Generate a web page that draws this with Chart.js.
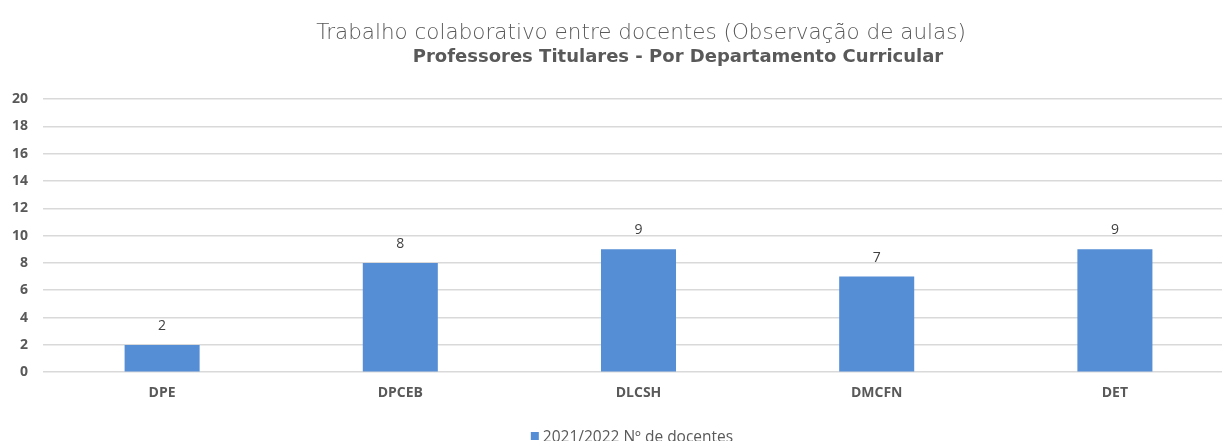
<!DOCTYPE html>
<html>
<head>
<meta charset="utf-8">
<script src="https://cdn.jsdelivr.net/npm/chart.js@4"></script>
<style>
  html, body { margin: 0; padding: 0; background: #fff; overflow: hidden; }
  /* original chart runs a bit past the right edge of the picture */
  #wrap { width: 1236px; height: 441px; }
</style>
</head>
<body>
<div id="wrap"><canvas id="chart"></canvas></div>
<script>
const categories = ['DPE', 'DPCEB', 'DLCSH', 'DMCFN', 'DET'];
const docentes = [2, 8, 9, 7, 9];
const seriesLabel = '2021/2022 Nº de docentes';
const titleLines = ['Trabalho colaborativo entre docentes (Observação de aulas)', 'Professores Titulares - Por Departamento Curricular'];

// titles drawn by hand so the two lines can have different weights
const titlePlugin = {
    id: 'twoTitles',
    afterDraw(chart) {
        const ctx = chart.ctx;
        ctx.save();
        ctx.textAlign = 'center';
        ctx.textBaseline = 'middle';
        ctx.fillStyle = '#595959';
        ctx.font = '200 21.5px "DejaVu Sans"';
        ctx.fillText(titleLines[0], chart.width / 2 + 23, 33);
        ctx.font = 'bold 18px "DejaVu Sans"';
        ctx.fillText(titleLines[1], chart.width / 2 + 60, 57);
        ctx.restore();
    }
};

// value labels above each bar
const valueLabels = {
    id: 'valueLabels',
    afterDatasetsDraw(chart) {
        const ctx = chart.ctx;
        ctx.save();
        ctx.font = '14px "Open Sans"';
        ctx.fillStyle = '#404040';
        ctx.textAlign = 'center';
        ctx.textBaseline = 'middle';
        chart.getDatasetMeta(0).data.forEach((bar, i) => {
            ctx.fillText(docentes[i], bar.x, bar.y - 19);
        });
        ctx.restore();
    }
};

// legend sits partly below the canvas edge in the original, so draw it by hand
const bottomLegend = {
    id: 'bottomLegend',
    afterDraw(chart) {
        const ctx = chart.ctx;
        const ds = chart.data.datasets[0];
        ctx.save();
        ctx.font = '15.5px "Open Sans"';
        const tw = ctx.measureText(ds.label).width;
        const x0 = chart.width / 2 - (12 + tw) / 2 + 14;
        const y = 438;
        ctx.fillStyle = ds.backgroundColor;
        ctx.fillRect(x0, y - 6, 8, 8);
        ctx.fillStyle = '#595959';
        ctx.textBaseline = 'middle';
        ctx.fillText(ds.label, x0 + 12, y);
        ctx.restore();
    }
};

new Chart(document.getElementById('chart'), {
    type: 'bar',
    data: {
        labels: categories,
        datasets: [{
            label: seriesLabel,
            data: docentes,
            backgroundColor: '#558ed5',
            categoryPercentage: 1,
            barPercentage: 0.315
        }]
    },
    options: {
        responsive: true,
        maintainAspectRatio: false,
        animation: false,
        layout: { padding: { top: 99, left: -3, right: 2, bottom: 36 } },
        plugins: {
            title: { display: false },
            tooltip: { enabled: false },
            legend: { display: false }
        },
        scales: {
            x: {
                grid: { display: false },
                border: { display: false },
                ticks: {
                    color: '#595959',
                    padding: 4,
                    font: { family: 'Open Sans', size: 14, weight: 'bold' }
                }
            },
            y: {
                min: 0,
                max: 20,
                border: { display: false },
                grid: { color: '#d9d9d9', lineWidth: 1.5, drawTicks: false },
                ticks: {
                    stepSize: 2,
                    color: '#595959',
                    padding: 15,
                    font: { family: 'Open Sans', size: 14, weight: 'bold' }
                }
            }
        }
    },
    plugins: [titlePlugin, valueLabels, bottomLegend]
});
</script>
</body>
</html>
